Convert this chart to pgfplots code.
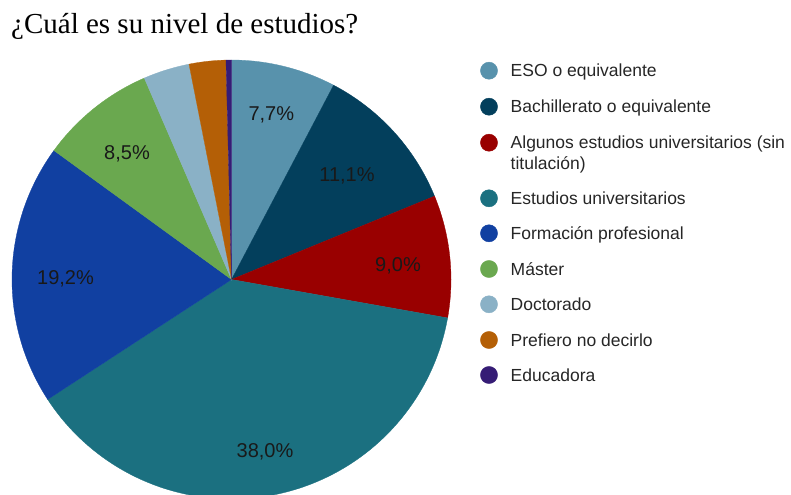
\documentclass[border=0pt]{standalone}
\usepackage{pgfplots}
\pgfplotsset{compat=1.18}
\usepackage{fontspec}
\setmainfont{Liberation Serif}
\newfontfamily\arial{Liberation Sans}
\definecolor{cESO}{RGB}{88,146,172}
\definecolor{cBach}{RGB}{3,63,92}
\definecolor{cAlg}{RGB}{153,0,0}
\definecolor{cEst}{RGB}{27,112,128}
\definecolor{cFP}{RGB}{17,64,161}
\definecolor{cMas}{RGB}{106,168,79}
\definecolor{cDoc}{RGB}{138,177,198}
\definecolor{cPref}{RGB}{180,95,6}
\definecolor{cEdu}{RGB}{53,28,117}
% values (percent), in clockwise order from 12 o'clock
% ESO 7.7, Bachillerato 11.1, Algunos 9.0, Estudios 38.0, FP 19.2,
% Master 8.5, Doctorado 3.4, Prefiero 2.7, Educadora 0.4
\newcommand\cx{231.5}
\newcommand\cy{279.5}
\newcommand\rr{219.5}
% #1 start percent, #2 end percent, #3 colour
\newcommand\slice[3]{%
  \addplot[draw=#3, line width=0.3pt, fill=#3, domain=#1:#2, samples=120, variable=\t]
    ({\cx+\rr*sin(3.6*\t)}, {\cy-\rr*cos(3.6*\t)}) -- (axis cs:\cx,\cy) -- cycle;}
\newcommand\lgd[3]{%
  \addplot[only marks, mark=*, mark size=8.6pt, mark options={draw=#1, fill=#1}] coordinates {(489,#2)};
  \node[anchor=base west, inner sep=0pt, text=black!85] at (axis cs:510.5,#2+6) {\arial\fontsize{17.5bp}{20bp}\selectfont #3};}
\newcommand\plab[3]{%
  \node[anchor=base, inner sep=0pt, text=black!90] at (axis cs:#1,#2+7.2) {\arial\fontsize{20bp}{24bp}\selectfont #3};}
\begin{document}
\begin{tikzpicture}
\begin{axis}[name=ax,
  width=791bp, height=495bp, scale only axis,
  xmin=0, xmax=791, ymin=0, ymax=495, y dir=reverse,
  hide axis, clip=true,
]
\slice{0}{7.7}{cESO}
\slice{7.7}{18.8}{cBach}
\slice{18.8}{27.8}{cAlg}
\slice{27.8}{65.8}{cEst}
\slice{65.8}{85.0}{cFP}
\slice{85.0}{93.5}{cMas}
\slice{93.5}{96.9}{cDoc}
\slice{96.9}{99.6}{cPref}
\slice{99.6}{100}{cEdu}
\plab{271.3}{113}{7,7\%}
\plab{347}{173.8}{11,1\%}
\plab{398}{264}{9,0\%}
\plab{265}{450}{38,0\%}
\plab{65.5}{277}{19,2\%}
\plab{127}{152}{8,5\%}
\lgd{cESO}{70.7}{ESO o equivalente}
\lgd{cBach}{106.7}{Bachillerato o equivalente}
\lgd{cAlg}{142.7}{Algunos estudios universitarios (sin}
\node[anchor=base west, inner sep=0pt, text=black!85] at (axis cs:510.5,169.5) {\arial\fontsize{17.5bp}{20bp}\selectfont titulación)};
\lgd{cEst}{198.3}{Estudios universitarios}
\lgd{cFP}{233.3}{Formación profesional}
\lgd{cMas}{269}{Máster}
\lgd{cDoc}{304.3}{Doctorado}
\lgd{cPref}{340}{Prefiero no decirlo}
\lgd{cEdu}{375}{Educadora}
\node[anchor=base west, inner sep=0pt] at (axis cs:11,33.5) {\fontsize{29bp}{32bp}\selectfont ¿Cuál es su nivel de estudios?};
\end{axis}
\pgfresetboundingbox
\path[use as bounding box] (ax.south west) rectangle (ax.north east);
\end{tikzpicture}
\end{document}
